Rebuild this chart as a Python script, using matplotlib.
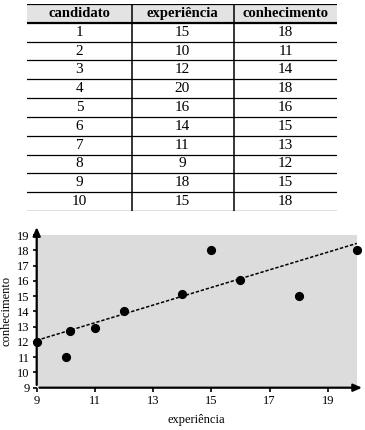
import matplotlib
matplotlib.use("Agg")
import matplotlib.pyplot as plt

plt.rcParams['font.family'] = ['Liberation Serif', 'DejaVu Serif']

# table data
col_labels = ["candidato", "experiência", "conhecimento"]
candidato = [1, 2, 3, 4, 5, 6, 7, 8, 9, 10]
experiencia = [15, 10, 12, 20, 16, 14, 11, 9, 18, 15]
conhecimento = [18, 11, 14, 18, 16, 15, 13, 12, 15, 18]

# points as drawn in the scatter plot
pts_x = [9, 10, 10.15, 11, 12, 14, 15, 16, 18, 20]
pts_y = [12, 11, 12.7, 12.9, 14, 15.15, 18, 16.05, 15, 18]

# trend line end points
trend_x = [9, 20]
trend_y = [12.1, 18.45]

x_ticks = [9, 11, 13, 15, 17, 19]
y_ticks = list(range(9, 20))

fig = plt.figure(figsize=(3.65, 4.3), dpi=100)

# --- table ---
tab = fig.add_axes([27 / 365, 1 - 211 / 430, 310 / 365, 207 / 430])
tab.set_xlim(0, 1)
tab.set_ylim(11, 0)
tab.axis("off")
col_x = [0.169, 0.5, 0.834]
tab.axhspan(0, 1, color="#e3e3e3", zorder=0)
for j, lab in enumerate(col_labels):
    tab.text(col_x[j], 0.5, lab, ha="center", va="center", fontsize=10.5, fontweight="bold")
rows = list(zip(candidato, experiencia, conhecimento))
for i, row in enumerate(rows):
    for j, val in enumerate(row):
        tab.text(col_x[j], i + 1.5, str(val), ha="center", va="center", fontsize=11)
for k in range(12):
    lw = 1.6 if k in (0, 1) else 0.9
    tab.axhline(k, color="black", lw=lw)
for vx in [0.339, 0.668]:
    tab.axvline(vx, color="black", lw=1.1)

# --- scatter ---
ax = fig.add_axes([36.7 / 365, (430 - 387.7) / 430, 320.1 / 365, 152.7 / 430])
ax.set_facecolor("#dcdcdc")
ax.set_xlim(9, 20)
ax.set_ylim(9, 19)
ax.plot(trend_x, trend_y, color="black", lw=1.1, dashes=(2.2, 1.2), zorder=2)
ax.plot(pts_x, pts_y, "o", color="black", ms=5.6, zorder=3, clip_on=False)
for s in ax.spines.values():
    s.set_visible(False)
ax.annotate("", xy=(1.025, 0), xytext=(0, 0), xycoords="axes fraction",
            arrowprops=dict(arrowstyle="-|>,head_length=0.5,head_width=0.22", color="black", lw=1.6))
ax.annotate("", xy=(0, 1.07), xytext=(0, 0), xycoords="axes fraction",
            arrowprops=dict(arrowstyle="-|>,head_length=0.5,head_width=0.22", color="black", lw=1.6))
ax.set_xticks(x_ticks)
ax.set_yticks(y_ticks)
ax.tick_params(axis="both", length=3, width=1.2, labelsize=9, pad=2)
ax.set_xlabel("experiência", fontsize=9, labelpad=5)
ax.set_ylabel("conhecimento", fontsize=9, labelpad=3)

fig.savefig("out.png", dpi=100)
